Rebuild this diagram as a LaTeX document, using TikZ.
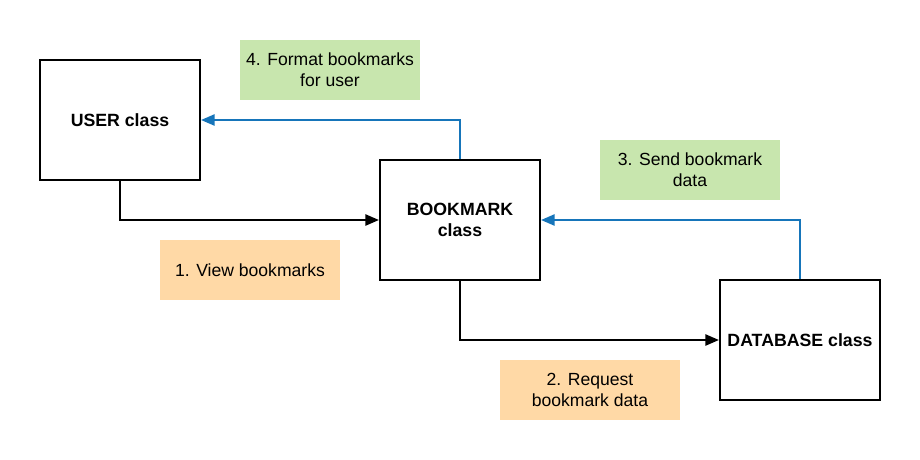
\documentclass[tikz,border=0pt]{standalone}
\usepackage{fontspec}
\setmainfont{Liberation Sans}
\usetikzlibrary{arrows.meta,positioning}
\definecolor{notegreen}{RGB}{200,230,174}
\definecolor{noteorange}{RGB}{255,217,166}
\definecolor{backblue}{RGB}{22,117,186}
\tikzset{
  cls/.style={draw, line width=1.5pt, minimum width=4cm, minimum height=3cm,
              align=center, font=\fontsize{12.6}{15}\selectfont\bfseries},
  note/.style={minimum width=4.5cm, minimum height=1.5cm, align=center,
               font=\fontsize{12.5}{15}\selectfont, inner sep=0pt},
  fwd/.style={-{Triangle[length=3.4mm,width=2.8mm]}, line width=1.4pt},
  bwd/.style={fwd, color=backblue},
}
\begin{document}
\begin{tikzpicture}[x=0.025cm, y=-0.025cm]
    \useasboundingbox (0,0) rectangle (920,460);
    \node[cls] (user) at (120,120) {USER class};
    \node[cls] (bookmark) at (460,220) {BOOKMARK\\class};
    \node[cls] (db) at (800,340) {DATABASE class};
    \node[note,fill=noteorange] (view) at (250,270) {1. View bookmarks};
    \node[note,fill=noteorange] (request) at (590,390) {2. Request\\bookmark data};
    \node[note,fill=notegreen] (send) at (690,170) {3. Send bookmark\\data};
    \node[note,fill=notegreen] (format) at (330,70) {4. Format bookmarks\\for user};
    \draw[fwd] (user.south) |- (bookmark.west);
    \draw[fwd] (bookmark.south) |- (db.west);
    \draw[bwd] (db.north) |- (bookmark.east);
    \draw[bwd] (bookmark.north) |- (user.east);
\end{tikzpicture}
\end{document}
